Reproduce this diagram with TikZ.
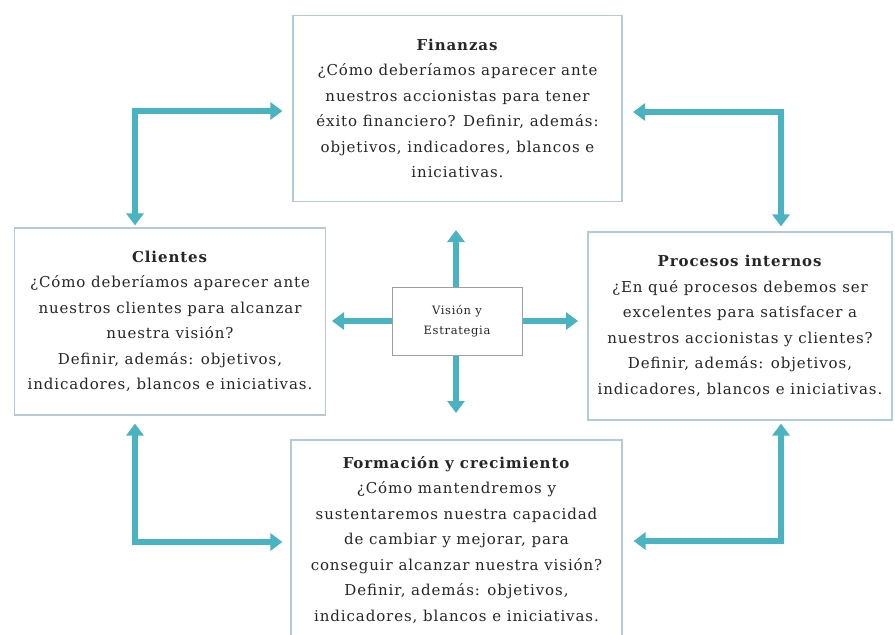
\documentclass[tikz,border=0pt]{standalone}
\usepackage{fontspec}
\setmainfont{DejaVu Serif}[LetterSpace=6]
\usetikzlibrary{arrows.meta}
\definecolor{arrowteal}{HTML}{4AB3C1}
\definecolor{panelline}{HTML}{B3CAD8}
\definecolor{inktext}{HTML}{262626}
\begin{document}
\begin{tikzpicture}[x=1pt,y=-1pt,
  panel/.style={draw=panelline, line width=1.2pt, fill=white, align=center,
    inner sep=0pt, text=inktext, font=\fontsize{15}{25.5}\selectfont},
  core/.style={draw=gray!75, line width=1pt, fill=white, align=center,
    inner sep=0pt, text=inktext, font=\fontsize{11.5}{20}\selectfont},
  tip/.tip={Triangle[width=17pt,length=12pt]},
  link/.style={draw=arrowteal, line width=5.5pt, tip-tip},
  push/.style={draw=arrowteal, line width=5.5pt, -tip}]
\useasboundingbox (0,0) rectangle (895,635);
\clip (0,0) rectangle (895,635);

% perspective panels
\node[panel, minimum width=329pt, minimum height=186pt] (fin) at (457.5,108.5)
  {\textbf{Finanzas}\\¿Cómo deberíamos aparecer ante\\nuestros accionistas para tener\\éxito financiero? Definir, además:\\objetivos, indicadores, blancos e\\iniciativas.};
\node[panel, minimum width=311pt, minimum height=187pt] (cli) at (170,321.5)
  {\textbf{Clientes}\\¿Cómo deberíamos aparecer ante\\nuestros clientes para alcanzar\\nuestra visión?\\Definir, además: objetivos,\\indicadores, blancos e iniciativas.};
\node[panel, minimum width=304pt, minimum height=188pt] (proc) at (740,326)
  {\textbf{Procesos internos}\\¿En qué procesos debemos ser\\excelentes para satisfacer a\\nuestros accionistas y clientes?\\Definir, además: objetivos,\\indicadores, blancos e iniciativas.};
\node[panel, minimum width=331pt, minimum height=200pt] (form) at (456.5,540)
  {\textbf{Formación y crecimiento}\\¿Cómo mantendremos y\\sustentaremos nuestra capacidad\\de cambiar y mejorar, para\\conseguir alcanzar nuestra visión?\\Definir, además: objetivos,\\indicadores, blancos e iniciativas.};

% central node
\node[core, minimum width=130pt, minimum height=68pt] (vis) at (457,321)
  {Visión y\\Estrategia};

% arrows out of the centre
\coordinate (upT) at (456,230);
\coordinate (dnT) at (456,413);
\coordinate (lfT) at (332,321);
\coordinate (rtT) at (578,321);
\draw[push] (vis.north -| upT) -- (upT);
\draw[push] (vis.south -| dnT) -- (dnT);
\draw[push] (vis.west) -- (lfT);
\draw[push] (vis.east) -- (rtT);

% links between neighbouring panels
\coordinate (c1) at (135,111);
\coordinate (c2) at (781,112);
\coordinate (c3) at (135,542);
\coordinate (c4) at (781,541);
\draw[link, shorten <=10pt, shorten >=2pt] (fin.west |- c1) -| (cli.north -| c1);
\draw[link, shorten <=10.5pt, shorten >=5pt] (fin.east |- c2) -| (proc.north -| c2);
\draw[link, shorten <=8pt, shorten >=8pt] (form.west |- c3) -| (cli.south -| c3);
\draw[link, shorten <=11pt, shorten >=3pt] (form.east |- c4) -| (proc.south -| c4);
\end{tikzpicture}
\end{document}
